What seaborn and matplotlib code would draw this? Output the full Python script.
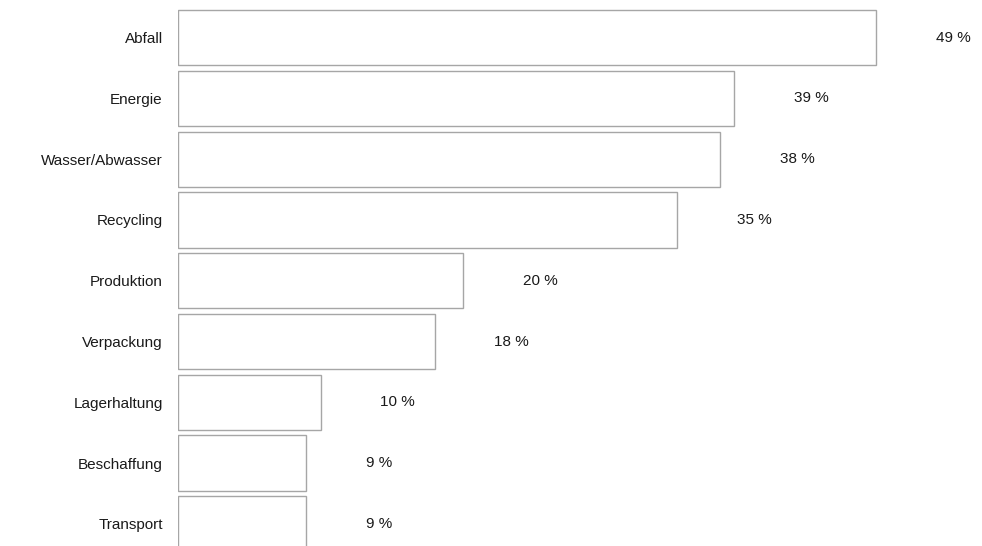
import matplotlib
matplotlib.use("Agg")
import matplotlib.pyplot as plt
import seaborn as sns
import pandas as pd

categories = ["Abfall", "Energie", "Wasser/Abwasser", "Recycling", "Produktion",
              "Verpackung", "Lagerhaltung", "Beschaffung", "Transport"]
values = [49, 39, 38, 35, 20, 18, 10, 9, 9]
value_labels = [f"{v} %" for v in values]

sns.set_theme(style="white")
plt.rcParams["font.family"] = ["Liberation Sans", "DejaVu Sans"]

W, H, DPI = 982, 546, 100
fig = plt.figure(figsize=(W / DPI, H / DPI), dpi=DPI)
left_px = 178
ax = fig.add_axes([left_px / W, 0, (W - left_px) / W, 1])

df = pd.DataFrame({"Bereich": categories, "Anteil": values})
sns.barplot(data=df, x="Anteil", y="Bereich", ax=ax, color="white",
            saturation=1, edgecolor="#a6a6a6", linewidth=1.0, width=0.91)

px_per_unit = 14.25
ax.set_xlim(0, (W - left_px) / px_per_unit)
pitch = 60.75
first_center = 37.75
ax.set_ylim((H - first_center) / pitch, -first_center / pitch)

offset = 60 / px_per_unit
for i, (v, lab) in enumerate(zip(values, value_labels)):
    ax.text(v + offset, i, lab, va="center", ha="left", fontsize=11, color="#1a1a1a")

ax.set_xlabel("")
ax.set_ylabel("")
ax.set_xticks([])
ax.tick_params(axis="y", length=0, pad=11, labelsize=11, labelcolor="#1a1a1a")
for s in ax.spines.values():
    s.set_visible(False)

fig.savefig("out.png", dpi=DPI)
